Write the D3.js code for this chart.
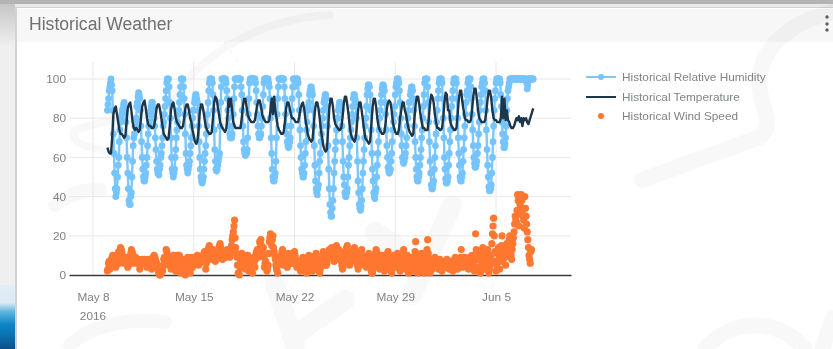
<!DOCTYPE html>
<html><head><meta charset="utf-8">
<script src="https://cdn.jsdelivr.net/npm/d3@7"></script>
<style>
html,body{margin:0;padding:0;background:#fff;overflow:hidden}
svg{display:block;font-family:"Liberation Sans",sans-serif;filter:blur(0.45px)}
</style></head><body>
<svg id="c" width="833" height="349"></svg>
<script>
const title = "Historical Weather";
const seriesNames = ["Historical Relative Humidity","Historical Temperature","Historical Wind Speed"];
const yTicks = [0,20,40,60,80,100];
const xTickDates = ["2016-05-08","2016-05-15","2016-05-22","2016-05-29","2016-06-05"];
const xTickLabels = ["May 8","May 15","May 22","May 29","Jun 5"];
const xTickYear = "2016";
const seriesStart = "2016-05-09T00:00:00Z";
const stepHours = 2;

// readings at even hours
const humidity = [
84,90,96,100,94,72,52,40,44,56,68,78,
82,85,88,84,70,52,38,36,42,58,70,76,
80,88,93,90,76,60,50,48,52,60,72,78,
84,88,86,80,70,58,52,51,56,62,70,78,
86,94,100,100,88,70,54,50,54,64,74,82,
88,96,100,100,90,72,56,52,56,62,70,80,
84,90,92,88,76,60,50,47,50,58,66,76,
88,98,100,100,92,74,58,53,56,60,76,96,
100,100,100,98,90,80,72,70,72,82,96,100,
100,100,100,100,92,76,64,61,62,70,90,100,
100,100,100,100,94,82,72,70,72,80,92,100,
100,100,100,96,80,62,50,48,52,70,90,100,
100,100,100,100,90,76,68,65,68,76,90,100,
96,100,100,98,84,66,54,50,52,62,74,84,
88,94,96,92,76,56,44,41,46,58,68,76,
84,90,92,86,66,44,32,30,38,52,64,74,
80,86,88,84,68,50,42,40,44,56,66,74,
82,90,92,88,70,48,36,33,38,52,64,76,
86,95,97,92,74,54,42,39,44,56,68,80,
88,95,97,94,82,66,55,52,54,62,74,82,
92,98,100,98,88,72,60,57,60,66,76,84,
88,94,96,90,76,60,50,48,52,60,70,80,
92,100,100,96,78,58,46,44,48,60,72,84,
94,100,100,98,80,60,49,47,50,62,74,86,
94,100,100,98,80,62,50,48,52,64,76,88,
94,100,100,96,82,66,57,55,58,66,78,88,
96,100,100,94,74,56,45,43,46,60,76,90,
98,100,100,100,92,78,68,65,70,84,94,98,
100,100,100,100,100,100,100,100,100,100,100,100,
100,100,95,100,100,100,100,100];

// readings at odd hours
const humidityOdd = [
87,94,98,97,84,62,44,42,50,60,74,80,
84,87,86,78,60,44,36,40,50,66,72,78,
86,91,92,84,68,54,48,50,56,66,76,82,
86,88,84,76,64,54,52,54,60,66,76,82,
90,98,100,96,80,60,52,52,60,70,78,84,
92,100,100,96,82,62,54,54,58,66,76,84,
88,92,90,84,68,54,48,48,54,62,72,82,
94,100,100,98,84,64,54,54,58,62,88,100,
100,100,100,94,84,76,70,70,76,90,100,100,
100,100,100,96,84,68,62,62,64,82,98,100,
100,100,100,98,88,76,70,71,76,86,98,100,
100,100,98,90,70,54,48,50,58,82,96,100,
100,100,100,96,82,72,66,66,70,84,96,100,
98,100,100,92,74,60,52,50,56,68,78,86,
92,96,94,84,66,48,42,44,52,62,72,80,
88,92,90,76,54,36,30,34,44,58,68,80,
84,88,86,76,58,46,40,42,50,60,70,78,
86,92,90,80,58,42,34,35,44,58,70,80,
92,97,96,84,62,48,40,42,50,62,74,84,
92,97,96,88,74,60,53,53,58,68,78,86,
96,100,100,94,80,66,58,58,62,70,80,88,
92,96,94,84,68,54,48,50,56,64,74,86,
98,100,100,88,68,52,44,46,54,66,78,90,
98,100,100,90,70,54,47,48,56,68,80,90,
98,100,100,90,70,56,48,50,58,70,82,92,
98,100,100,90,74,60,55,56,62,72,84,92,
98,100,98,84,64,50,43,44,52,68,84,94,
100,100,100,98,86,72,65,67,76,90,96,100,
100,100,100,100,100,100,100,100,100,100,100,100,
100,98,97,100,100,100,100];

const temperature = [
65,63,62,62,70,82,85,86,82,78,74,72,
72,71,70,71,78,85,87,88,84,78,75,74,
75,74,73,74,80,86,88,89,85,80,77,76,
76,75,75,76,80,85,87,87,84,80,76,72,
71,70,69,70,76,84,87,88,85,80,78,77,
76,75,75,76,80,85,87,87,84,80,78,74,
71,68,67,68,74,83,87,87,84,80,76,74,
73,72,72,73,80,88,91,90,86,82,78,76,
75,74,73,74,80,90,86,90,84,78,76,75,
75,75,75,75,80,86,90,90,86,82,80,79,
78,78,78,79,83,87,89,89,86,82,80,79,
78,78,78,79,84,90,82,91,84,80,76,74,
73,72,72,73,78,85,88,88,85,82,80,80,
79,78,78,78,81,85,87,88,85,80,76,72,
70,69,68,69,76,84,88,88,85,80,74,70,
66,64,63,64,74,85,90,90,86,80,77,76,
75,74,74,75,80,87,91,91,87,82,76,72,
70,69,68,70,76,84,88,88,84,79,74,70,
69,68,67,68,76,85,90,90,86,80,76,74,
73,72,72,73,78,85,88,89,88,84,78,75,
73,72,72,74,80,84,88,88,84,82,78,75,
73,72,71,72,80,87,91,91,87,82,78,75,
75,74,74,74,80,88,92,91,88,82,78,75,
75,74,74,75,80,88,93,92,84,84,78,76,
75,74,74,75,82,90,94,94,88,84,80,79,
79,78,78,79,84,91,95,95,90,84,80,79,
78,78,78,79,84,90,94,94,90,84,80,79,
79,78,78,78,80,91,80,90,79,84,79,78,
76,75,75,76,78,80,79,81,78,80,76,80,
79,80,78,77,79,81,83,85];

const windSpeed = [
2,6,3,6,9,5,9,4,10,11,6,14,
12,7,6,9,8,4,9,7,13,11,6,8,
7,8,6,3,7,7,6,8,7,4,8,6,
8,3,9,10,8,6,4,1,0,1,2,8,
5,13,9,7,6,3,8,10,5,2,9,10,
10,1,6,8,5,0,3,9,7,1,9,4,
7,9,6,10,5,6,7,8,10,12,3,9,
13,15,9,8,13,11,7,8,10,14,16,13,
8,10,12,9,13,11,9,12,18,22,28,14,
9,1,0,7,11,4,7,3,9,10,2,6,
8,1,9,4,11,13,9,17,18,12,14,4,
7,2,5,17,21,15,20,12,8,3,1,9,
6,10,13,5,7,8,4,11,9,7,6,10,
12,8,4,7,6,2,5,9,8,3,1,6,
10,8,4,2,5,9,11,7,3,1,5,8,
12,9,5,6,10,13,11,14,9,7,12,15,
8,13,10,7,3,6,11,13,15,9,5,10,
12,8,14,9,6,3,7,11,13,8,5,9,
4,7,11,8,2,1,6,9,13,10,5,3,
7,10,6,2,4,9,12,8,3,1,7,10,
4,8,11,6,2,5,9,13,3,7,10,1,
4,6,9,2,8,17,6,1,5,9,11,3,
1,7,10,18,5,1,8,3,6,9,7,4,
3,8,6,2,7,5,4,8,6,3,7,5,
2,6,9,5,3,8,6,13,4,7,9,8,
5,3,9,7,10,6,2,21,4,12,8,1,
6,14,10,3,8,13,1,5,10,21,29,12,
2,7,14,3,11,20,8,13,5,16,10,18,
12,8,16,22,30,27,41,25,36,41,33,28,
40,30,22,14,8,12];

const windSpeedOdd = [
3,7,5,8,10,7,6,5,9,12,9,13,
10,8,7,8,6,5,8,11,12,9,7,9,
8,6,7,5,8,6,7,7,6,6,7,7,
6,5,8,9,7,5,2,0,1,3,5,9,
8,12,10,8,5,5,9,8,4,5,10,9,
6,3,7,7,3,1,6,8,4,5,8,6,
8,8,8,7,6,7,8,9,11,8,6,11,
14,12,9,11,12,9,8,9,12,15,14,11,
9,11,11,11,12,10,11,15,20,25,19,11,
5,1,4,9,8,6,5,6,10,6,4,7,
5,5,7,8,12,11,13,16,15,13,9,6,
4,3,11,19,18,18,14,10,5,2,5,8,
8,12,9,6,8,6,8,10,8,6,8,11,
10,6,5,7,4,3,7,8,5,2,4,8,
9,6,3,3,7,10,9,5,2,3,6,10,
10,7,5,8,12,12,13,12,8,10,13,12,
11,12,8,5,4,9,12,14,12,7,8,11,
10,11,12,7,5,5,9,12,10,6,7,7,
5,9,10,5,1,3,8,11,12,7,4,5,
9,8,4,3,7,11,10,5,2,4,9,7,
6,10,8,4,3,7,11,8,5,9,5,2,
5,8,5,5,12,11,3,3,7,10,7,2,
4,9,13,11,3,4,5,4,8,8,5,4,
6,7,4,5,6,5,6,7,5,5,6,4,
4,8,7,4,6,7,9,8,6,8,8,7,
4,6,8,9,8,4,10,13,8,10,4,3,
10,12,6,5,11,7,3,7,16,25,20,7,
5,11,8,7,15,14,11,9,12,14,15,20,
10,13,19,26,28,33,38,31,40,38,30,24,
34,26,18,10,6,13];

const width = 833, height = 349;
const svg = d3.select("#c");

// page behind the card
const defs = svg.append("defs");
const g1 = defs.append("linearGradient").attr("id","gutter").attr("x1",0).attr("x2",0).attr("y1",0).attr("y2",1);
[[0,"#e2edf5"],[0.28,"#dbe9f3"],[0.42,"#5cb5df"],[0.62,"#0a85c5"],[0.8,"#0a70b0"],[1,"#0c4f8a"]].forEach(s=>g1.append("stop").attr("offset",s[0]).attr("stop-color",s[1]));
const g2 = defs.append("linearGradient").attr("id","gutterTop").attr("x1",0).attr("x2",0).attr("y1",0).attr("y2",1);
[[0,"#c2c2c2"],[1,"#eeeeee"]].forEach(s=>g2.append("stop").attr("offset",s[0]).attr("stop-color",s[1]));
svg.append("rect").attr("width",width).attr("height",height).attr("fill","#efefef");
svg.append("rect").attr("x",0).attr("y",0).attr("width",16).attr("height",45).attr("fill","url(#gutterTop)");
svg.append("rect").attr("x",0).attr("y",285).attr("width",16).attr("height",64).attr("fill","url(#gutter)");
svg.append("rect").attr("y",0).attr("width",width).attr("height",4).attr("fill","#b4b4b4");
svg.append("rect").attr("x",15).attr("y",4).attr("width",818).attr("height",3).attr("fill","#e9e9e9");
svg.append("rect").attr("x",15).attr("y",7).attr("width",818).attr("height",342).attr("fill","#d2d2d2");
svg.append("rect").attr("x",17).attr("y",8).attr("width",816).attr("height",341).attr("fill","#fff");
svg.append("rect").attr("x",17).attr("y",9).attr("width",816).attr("height",33).attr("fill","#f7f7f7");

// watermark
const wm = svg.append("g").attr("fill","none").attr("stroke","#000").attr("stroke-opacity",0.028).attr("stroke-linecap","round").attr("stroke-linejoin","round");
wm.append("path").attr("stroke-width",8).attr("d","M75 130 C120 115 190 110 235 125 M75 130 C65 150 120 155 170 150 M160 120 C190 60 250 20 330 15");
wm.append("path").attr("stroke-width",14).attr("d","M55 205 C75 190 85 190 100 190 M70 345 C90 325 130 318 165 322");
wm.append("path").attr("stroke-width",20).attr("d","M275 285 L295 345 M295 335 L345 300 M375 232 L395 245 M452 205 L412 295");
wm.append("path").attr("stroke-width",16).attr("d","M833 12 C790 22 755 50 760 90 C762 110 775 125 760 137 L642 180 M705 349 C730 320 775 315 805 349 M822 349 L833 318");
wm.append("path").attr("stroke-width",2.5).attr("stroke-dasharray","1 10").attr("d","M225 42 L240 65 M608 92 L700 70");

const x = d3.scaleUtc().domain([new Date("2016-05-06T08:00:00Z"), new Date("2016-06-10T05:00:00Z")]).range([69,571]);
const y = d3.scaleLinear().domain([0,100]).range([275,79]);
const t0 = new Date(seriesStart).getTime();
const hour = 3600e3;
const merged = (even,odd) => {
  const out = [];
  even.forEach((v,i)=>{
    out.push({t:new Date(t0+i*stepHours*hour), v});
    if (i < odd.length) out.push({t:new Date(t0+(i*stepHours+1)*hour), v:odd[i]});
  });
  return out;
};
const pts = arr => arr.map((v,i)=>({t:new Date(t0+i*stepHours*hour), v}));

// grid
const grid = svg.append("g");
grid.selectAll("line.h").data(yTicks.filter(d=>d>0)).join("line").attr("x1",69).attr("x2",571)
  .attr("y1",d=>y(d)).attr("y2",d=>y(d)).attr("stroke","#e8e8e8");
const tickDates = xTickDates.map(d=>new Date(d+"T00:00:00Z"));
grid.selectAll("line.v").data(tickDates).join("line").attr("x1",d=>x(d)).attr("x2",d=>x(d))
  .attr("y1",62).attr("y2",275).attr("stroke","#e8e8e8");

// y axis
const yAxis = svg.append("g").attr("transform","translate(69,0)")
  .call(d3.axisLeft(y).tickValues(yTicks).tickSize(0).tickPadding(3));
yAxis.select(".domain").remove();
yAxis.selectAll("text").attr("fill","#808080").attr("font-size",11.8).attr("font-family","Liberation Sans");

// x axis
const xAxis = svg.append("g").attr("transform","translate(0,275)")
  .call(d3.axisBottom(x).tickValues(tickDates).tickSize(0).tickPadding(18).tickFormat((d,i)=>xTickLabels[i]));
xAxis.select(".domain").attr("stroke","#3a3a3a").attr("stroke-width",1.3);
xAxis.selectAll("text").attr("fill","#808080").attr("font-size",11.8).attr("font-family","Liberation Sans");
svg.append("text").attr("x",x(tickDates[0])).attr("y",320).attr("text-anchor","middle").attr("fill","#808080").attr("font-size",11.8).text(xTickYear);

// wind
svg.append("g").selectAll("circle").data(merged(windSpeed,windSpeedOdd)).join("circle")
  .attr("cx",d=>x(d.t)).attr("cy",d=>y(d.v)).attr("r",3.6).attr("fill","#ff7730");

// humidity
const humidityPts = merged(humidity,humidityOdd);
const lineGen = d3.line().x(d=>x(d.t)).y(d=>y(d.v));
svg.append("path").datum(humidityPts).attr("d",lineGen).attr("fill","none").attr("stroke","#7cc7ff").attr("stroke-width",2.4);
svg.append("g").selectAll("circle").data(humidityPts).join("circle")
  .attr("cx",d=>x(d.t)).attr("cy",d=>y(d.v)).attr("r",3.4).attr("fill","#76c4fd");

// temperature
svg.append("path").datum(pts(temperature)).attr("d",lineGen).attr("fill","none")
  .attr("stroke","#1d3649").attr("stroke-width",2.4).attr("stroke-linejoin","round");

// title
svg.append("text").attr("x",29).attr("y",30).attr("font-size",17.6).attr("fill","#707070").text(title);
// menu
svg.append("g").selectAll("circle").data([17,24,30]).join("circle").attr("cx",827).attr("cy",d=>d).attr("r",1.7).attr("fill","#5f5f5f");

// legend
const lg = svg.append("g");
const rowY = [77,97,116];
seriesNames.forEach((n,i)=>{
  lg.append("text").attr("x",622).attr("y",rowY[i]+4).attr("font-size",11.8).attr("fill","#7f8488").text(n);
});
lg.append("line").attr("x1",586).attr("x2",616).attr("y1",rowY[0]).attr("y2",rowY[0]).attr("stroke","#7cc7ff").attr("stroke-width",2);
lg.append("circle").attr("cx",601).attr("cy",rowY[0]).attr("r",3).attr("fill","#76c4fd");
lg.append("line").attr("x1",586).attr("x2",616).attr("y1",rowY[1]).attr("y2",rowY[1]).attr("stroke","#1d3649").attr("stroke-width",2);
lg.append("circle").attr("cx",601).attr("cy",rowY[2]).attr("r",3).attr("fill","#ff7730");
</script>
</body></html>
